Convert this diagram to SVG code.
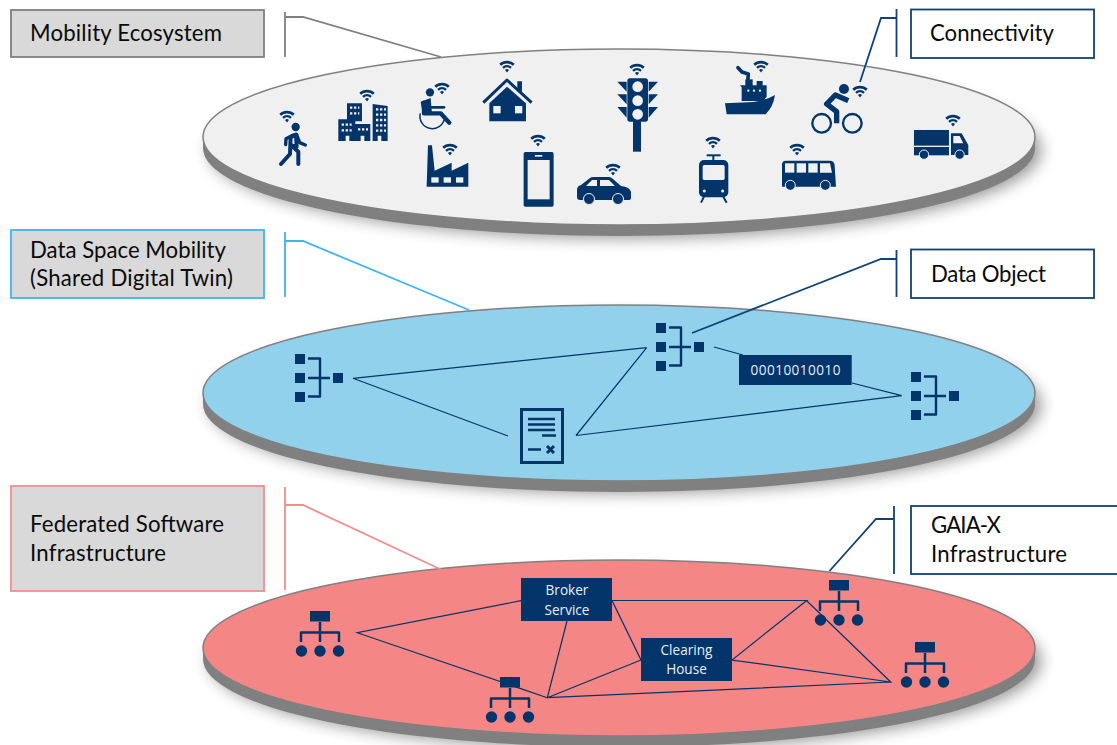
<svg xmlns="http://www.w3.org/2000/svg" width="1117" height="745" viewBox="0 0 1117 745">
<style>
.n{fill:#03356a}
.f{fill:#f0f0f0}
.s{fill:none;stroke:#03356a;stroke-linecap:butt;stroke-linejoin:round}
.r{stroke-linecap:round}
.c{fill:none;stroke:#03356a;stroke-width:1.2}
.l{fill:none;stroke-width:1.8}
.side{fill:#808080}
.face{stroke:#808080;stroke-width:1.5}
.shadow{fill:#000;opacity:.42;filter:url(#blur)}
text{font-family:Lato,"Liberation Sans",sans-serif}
.big{font-size:22.2px;fill:#0a0a0a}
.small{font-family:"Open Sans","Liberation Sans",sans-serif;font-size:13.6px;fill:#e8eef5;text-anchor:middle}
</style>
<defs>
<filter id="blur" x="-10%" y="-30%" width="120%" height="160%"><feGaussianBlur stdDeviation="8"/></filter>
<g id="wifi">
<path d="M-7.7 -3.2A11 11 0 0 1 7.7 -3.2L5.9 -1.2A8.4 8.4 0 0 0 -5.9 -1.2Z" class="n"/>
<path d="M-4.8 0A7 7 0 0 1 4.8 0L3.2 1.7A4.7 4.7 0 0 0 -3.2 1.7Z" class="n"/>
<path d="M-2 3A3 3 0 0 1 2 3L0 5.4Z" class="n"/>
</g>
<g id="dobj">
<rect width="10" height="10" class="n"/><rect y="19" width="10" height="10" class="n"/><rect y="38" width="10" height="10" class="n"/><rect x="38" y="19" width="10" height="10" class="n"/>
<path d="M13 4.500H25V42.500H13M13 24H35" class="s" stroke-width="2.400"/>
</g>
<g id="org">
<rect x="-10" y="0" width="20" height="10.500" class="n"/>
<path d="M0 11V31M-19 31V21.500H19V31" class="s" stroke-width="2.500"/>
<circle cx="-18.500" cy="40" r="5.700" class="n"/><circle cy="40" r="5.700" class="n"/><circle cx="18.500" cy="40" r="5.700" class="n"/>
</g>
</defs>

<g id="layer-mobility">
<ellipse cx="625" cy="150" rx="416" ry="88" class="shadow"/>
<ellipse cx="619" cy="148" rx="416" ry="88" class="side"/>
<rect x="203" y="137" width="832" height="11" class="side"/>
<ellipse cx="619" cy="137" rx="416" ry="88" fill="#f0f0f0" class="face"/>
</g>
<g id="layer-data">
<ellipse cx="625" cy="405" rx="416" ry="88" class="shadow"/>
<ellipse cx="619" cy="404" rx="416" ry="88" class="side"/>
<rect x="203" y="393" width="832" height="11" class="side"/>
<ellipse cx="619" cy="393" rx="416" ry="88" fill="#92d1ec" class="face"/>
</g>
<g id="layer-infra">
<ellipse cx="625" cy="661" rx="416" ry="88" class="shadow"/>
<ellipse cx="619" cy="659" rx="416" ry="88" class="side"/>
<rect x="203" y="648" width="832" height="11" class="side"/>
<ellipse cx="619" cy="648" rx="416" ry="88" fill="#f48686" class="face"/>
</g>

<g id="connectors">
<path class="l" stroke="#7f7f7f" d="M285 12V57M285 17H303L441 57"/>
<path class="l" stroke="#3fb4ef" d="M285 232V297M285 241H303L469 310"/>
<path class="l" stroke="#f48c8c" d="M285 487V590M285 505H303L442 570"/>
<path class="l" stroke="#0f4377" d="M896.500 9V57M896.500 18H881L860 82"/>
<path class="l" stroke="#0f4377" d="M896.500 250V297M896.500 259H881L692 333"/>
<path class="l" stroke="#0f4377" d="M894 506V574M894 519H876L829.500 571"/>
<path class="c" d="M646.700 347.700L353 378.300L508 436M576 435.500L646.700 347.700M576 435.500L901.700 395.700L852 383M714 347L743 355"/>
<path class="c" d="M521 600.700L357.300 632.700L547.300 697.700L567 621M547.300 697.700L641 660L612 600.500H806.700L732 660L890.700 682L806.700 600.700M547.300 697.700L890.700 682"/>
</g>

<g id="box-mobility"><rect x="11" y="10" width="253" height="47" fill="#d9d9d9" stroke="#7f7f7f" stroke-width="1.800"/><text x="30" y="41" class="big" textLength="192">Mobility Ecosystem</text></g>
<g id="box-data"><rect x="11" y="230" width="253" height="68" fill="#d9d9d9" stroke="#3fb4ef" stroke-width="1.800"/><text x="30" y="258" class="big" textLength="196">Data Space Mobility</text><text x="30" y="286" class="big" textLength="203">(Shared Digital Twin)</text></g>
<g id="box-federated"><rect x="11" y="486" width="253" height="105" fill="#d9d9d9" stroke="#f48c8c" stroke-width="1.800"/><text x="30" y="532" class="big" textLength="194">Federated Software</text><text x="30" y="561" class="big" textLength="136">Infrastructure</text></g>
<g id="box-connectivity"><rect x="911" y="9.500" width="183" height="48.500" fill="#fff" stroke="#0f4377" stroke-width="1.800"/><text x="930" y="41" class="big" textLength="124">Connectivity</text></g>
<g id="box-object"><rect x="911" y="249.500" width="183" height="48.500" fill="#fff" stroke="#0f4377" stroke-width="1.800"/><text x="931" y="282" class="big" textLength="115">Data Object</text></g>
<g id="box-gaia"><rect x="911" y="506" width="220" height="68" fill="#fff" stroke="#0f4377" stroke-width="1.800"/><text x="931" y="533" class="big" textLength="70">GAIA-X</text><text x="931" y="562" class="big" textLength="136">Infrastructure</text></g>

<g id="icon-person"><use href="#wifi" x="287" y="117"/><g transform="translate(200 50) scale(.3333)"><circle cx="287" cy="231" r="12.500" class="n"/><path d="M278 256L290 254L299 278L316 285M257 284L258 266L278 256" class="s r" stroke-width="10"/><path d="M243 342L270 312L272 262L288 254L290 290L274 286M295 342L295 305L274 286" class="s r" stroke-width="12"/></g></g>
<g id="icon-city"><use href="#wifi" x="367" y="96"/><g transform="translate(200 50) scale(.3333)"><path d="M415 208H441V160H486V214H466V222H511V273H415Z" class="n"/><path d="M518 162L563 168V273H518Z" class="n"/><path d="M425 224H455M425 241H455M450 173H478M450 190H478M474 238H504M528 178H558M528 194H558M528 210H558M528 226H558M528 242H558" stroke="#f0f0f0" stroke-width="7" stroke-dasharray="7 5" fill="none"/><path d="M437 257h11v16h-11zM482 257h11v16h-11zM533 257h11v16h-11z" class="f"/></g></g>
<g id="icon-wheelchair"><use href="#wifi" x="442" y="89"/><g transform="translate(200 50) scale(.3333)"><circle cx="690" cy="127" r="12.500" class="n"/><path d="M672 158L672 190H722L748 218" class="s r" stroke-width="13"/><path d="M662 155L692 144L696 190H668Z" class="n"/><path d="M695 172H732" class="s r" stroke-width="8"/><path d="M661 190A37 37 0 0 0 733 208" class="s" stroke-width="4.500"/></g></g>
<g id="icon-house"><use href="#wifi" x="507" y="67"/><g transform="translate(200 50) scale(.3333)"><path d="M850 158L921 90L995 158" class="s" stroke-width="9"/><path d="M952 94H966V130L952 118Z" class="n"/><path d="M868 160L921 110L978 160V214H868Z" class="n"/><rect x="880" y="168" width="22" height="22" class="f"/><rect x="945" y="168" width="22" height="22" class="f"/></g></g>
<g id="icon-factory"><use href="#wifi" x="450" y="150"/><g transform="translate(200 50) scale(.3333)"><path d="M684 286H696L704 362L755 338V362L805 338V410H680Z" class="n"/><rect x="694" y="382" width="22" height="16" class="f"/><rect x="731" y="382" width="22" height="16" class="f"/><rect x="768" y="382" width="22" height="16" class="f"/></g></g>
<g id="icon-phone"><use href="#wifi" x="538" y="141"/><g transform="translate(200 50) scale(.3333)"><rect x="971" y="306" width="90" height="164" rx="5" class="n"/><rect x="983" y="330" width="66" height="118" class="f"/><rect x="1005" y="315" width="22" height="5" class="f"/></g></g>
<g id="icon-car"><use href="#wifi" x="613" y="170"/><path d="M577 197V190Q577 186 581 185L590 178Q591 177 594 177H609Q611 177 613 179L621 186Q630 187 631 192V198Q631 200 628 200H580Q577 200 577 197Z" class="n"/><path d="M586 186L592 180H597V186ZM600 180H609L615 186H600Z" class="f"/><circle cx="589" cy="199" r="5.500" class="n" stroke="#f0f0f0"/><circle cx="618" cy="199" r="5.500" class="n" stroke="#f0f0f0"/></g>
<g id="icon-traffic"><use href="#wifi" x="637" y="70"/><g transform="translate(600 0) scale(.3333)"><path d="M52 245H80V275ZM52 283H80V313ZM52 321H80V353ZM174 245H146V275ZM174 283H146V313ZM174 321H146V353Z" class="n"/><rect x="82" y="235" width="62" height="130" rx="8" class="n"/><rect x="99" y="360" width="24" height="95" class="n"/><circle cx="113" cy="260" r="16" class="f"/><circle cx="113" cy="302" r="16" class="f"/><circle cx="113" cy="343" r="16" class="f"/></g></g>
<g id="icon-ship"><use href="#wifi" x="761" y="67"/><g transform="translate(600 0) scale(.3333)"><path d="M375 310L460 306Q500 300 525 285Q520 320 497 343H380Z" class="n"/><path d="M420 256H500V290L490 303H425V262Z" class="n"/><rect x="436" y="238" width="22" height="22" class="n"/><rect x="470" y="243" width="18" height="15" class="n"/><path d="M414 203L426 216L445 222L444 236" class="s r" stroke-width="11"/><circle cx="445" cy="272" r="3.500" class="f"/><circle cx="462" cy="272" r="3.500" class="f"/><circle cx="480" cy="272" r="3.500" class="f"/></g></g>
<g id="icon-bike"><use href="#wifi" x="860" y="92"/><g transform="translate(600 0) scale(.3333)"><circle cx="665" cy="370" r="28" class="s" stroke-width="7"/><circle cx="757" cy="370" r="28" class="s" stroke-width="7"/><circle cx="732" cy="267" r="15" class="n"/><path d="M710 370V335L680 312L706 285L745 302" class="s" stroke-width="16"/></g></g>
<g id="icon-tram"><use href="#wifi" x="713" y="143"/><g transform="translate(600 0) scale(.3333)"><rect x="297" y="480" width="88" height="112" rx="15" class="n"/><rect x="308" y="495" width="66" height="45" rx="5" class="f"/><path d="M340 465V482" class="s" stroke-width="6"/><rect x="320" y="463" width="42" height="6" class="n"/><circle cx="313" cy="573" r="4.500" class="f"/><circle cx="368" cy="573" r="4.500" class="f"/><path d="M312 590L303 608M370 590L380 608" class="s" stroke-width="6"/></g></g>
<g id="icon-bus"><use href="#wifi" x="797" y="150"/><g transform="translate(600 0) scale(.3333)"><path d="M558 482H690Q702 482 704 495L708 560H546V494Q546 482 558 482Z" class="n"/><rect x="555" y="490" width="28" height="28" class="f"/><rect x="590" y="490" width="28" height="28" class="f"/><rect x="625" y="490" width="28" height="28" class="f"/><path d="M660 490H690L696 518H660Z" class="f"/><circle cx="571" cy="556" r="15" class="n" stroke="#f0f0f0" stroke-width="3"/><circle cx="676" cy="556" r="15" class="n" stroke="#f0f0f0" stroke-width="3"/></g></g>
<g id="icon-truck"><use href="#wifi" x="953" y="121"/><g transform="translate(600 0) scale(.3333)"><rect x="942" y="390" width="105" height="47" class="n"/><rect x="942" y="441" width="105" height="25" class="n"/><path d="M1053 400H1085L1105 435V465H1053Z" class="n"/><path d="M1060 408H1079L1090 430H1060Z" class="f"/><circle cx="972" cy="464" r="14" class="n" stroke="#f0f0f0" stroke-width="3"/><circle cx="1079" cy="464" r="14" class="n" stroke="#f0f0f0" stroke-width="3"/></g></g>

<g id="data-object-1"><use href="#dobj" x="295" y="354"/></g>
<g id="data-object-2"><use href="#dobj" x="656" y="323"/></g>
<g id="data-object-3"><use href="#dobj" x="911" y="372"/></g>
<g id="contract"><rect x="521.500" y="409.500" width="41" height="53" fill="none" stroke="#03356a" stroke-width="3"/><path d="M528 419H555M528 424.500H555M528 430H555M542 435.500H556M528 449.500H541" class="s" stroke-width="2.600"/><path d="M547 446L554 453M554 446L547 453" class="s" stroke-width="3"/></g>
<g id="bits"><rect x="739" y="355" width="112.700" height="30" class="n"/><text x="795.500" y="375" class="small" textLength="90">00010010010</text></g>
<g id="broker"><rect x="521" y="578" width="91" height="43" class="n"/><text x="567" y="595" class="small">Broker</text><text x="567" y="615" class="small">Service</text></g>
<g id="clearing"><rect x="641" y="638" width="91" height="43" class="n"/><text x="686.500" y="655" class="small">Clearing</text><text x="686.500" y="674" class="small">House</text></g>
<g id="server-1"><use href="#org" x="320" y="611"/></g>
<g id="server-2"><use href="#org" x="510" y="677"/></g>
<g id="server-3"><use href="#org" x="839" y="580"/></g>
<g id="server-4"><use href="#org" x="925" y="642"/></g>
</svg>
